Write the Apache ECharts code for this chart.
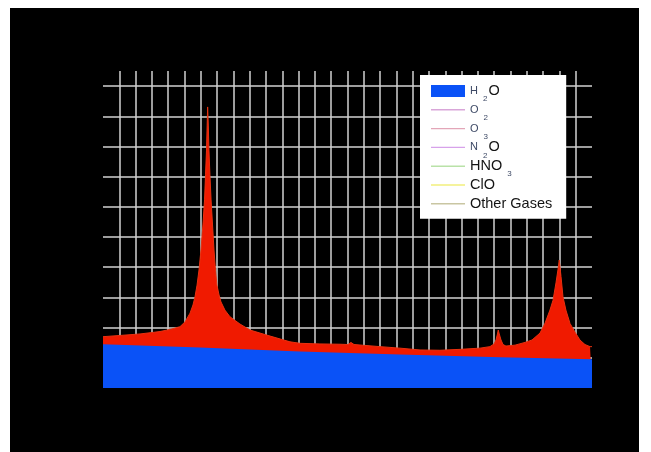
<!DOCTYPE html>
<html>
<head>
<meta charset="utf-8">
<script src="https://cdn.jsdelivr.net/npm/echarts@6/dist/echarts.min.js"></script>
<style>
  html, body { margin: 0; padding: 0; background: #ffffff; }
  #chart { position: absolute; left: 10px; top: 8px; width: 629px; height: 444px; background: #000000; }
</style>
</head>
<body>
<div id="chart"></div>
<script>
// Spectrum positions (grid units along the band) and levels (grid units)
const totalX = [0, 1.04, 2.27, 3.50, 4.11, 4.72, 5.03, 5.34, 5.52, 5.64, 5.77, 5.89, 6.01, 6.13, 6.23, 6.29, 6.35, 6.39, 6.42,
  6.46, 6.50, 6.56, 6.63, 6.72, 6.81, 6.90, 6.99, 7.12, 7.24, 7.48, 7.79, 8.40, 9.02, 9.63, 10.25, 11.47, 12.09, 13.31, 14.54,
  15.03, 15.21, 15.40, 16.99, 18.22, 19.45, 20.67, 21.90, 23.13, 23.74, 23.99, 24.11, 24.20, 24.25, 24.31, 24.42, 24.54, 24.72,
  25.28, 25.89, 26.32, 26.81, 27.12, 27.42, 27.61, 27.79, 27.91, 27.99, 28.10, 28.22, 28.40, 28.65, 28.96, 29.26, 29.57, 29.88, 30];
const totalY = [1.70, 1.74, 1.79, 1.87, 1.94, 2.03, 2.19, 2.48, 2.75, 3.01, 3.41, 3.91, 4.57, 5.40, 6.23, 7.06, 7.88, 8.71, 9.31,
  8.71, 7.88, 7.06, 6.23, 5.40, 4.57, 3.91, 3.41, 3.08, 2.85, 2.58, 2.36, 2.12, 1.92, 1.82, 1.72, 1.53, 1.48, 1.46, 1.45,
  1.44, 1.51, 1.44, 1.37, 1.32, 1.26, 1.25, 1.28, 1.32, 1.37, 1.46, 1.59, 1.79, 1.92, 1.79, 1.59, 1.44, 1.39,
  1.42, 1.51, 1.59, 1.82, 2.15, 2.58, 2.91, 3.48, 3.91, 4.24, 3.69, 3.02, 2.58, 2.14, 1.85, 1.59, 1.44, 1.37, 1.37];

const h2oX = [0, 5.95, 12.09, 18.22, 24.36, 30];
const h2oY = [1.45, 1.34, 1.21, 1.11, 1.02, 0.95];

const legendNames = ['H2O', 'O2', 'O3', 'N2O', 'HNO3', 'ClO', 'Other Gases'];
const lineColors = {
  'O2': '#d9a6d9',
  'O3': '#e3a6b8',
  'N2O': '#d7a2ea',
  'HNO3': '#b9e2a8',
  'ClO': '#f2f07e',
  'Other Gases': '#c9c6a2'
};
// rich-text labels with subscripts
const legendLabels = {
  'H2O': '{a|H}{s|2}{b|O}',
  'O2': '{a|O}{s|2}',
  'O3': '{a|O}{s|3}',
  'N2O': '{a|N}{s|2}{b|O}',
  'HNO3': '{b|HNO}{s|3}',
  'ClO': '{b|ClO}',
  'Other Gases': '{b|Other Gases}'
};

// thin horizontal stroke icon; the zero-area corner segments keep the full 34x12 box
const thinLineIcon = 'path://M0,0L0.01,0L0,0ZM0,5.3L34,5.3L34,6.7L0,6.7ZM34,12L33.99,12L34,12Z';

const pairs = (xs, ys) => xs.map((x, i) => [x, ys[i]]);

function gridColors(count) {
  const c = [];
  for (let i = 0; i <= count; i++) c.push(i === 0 || i === count ? 'rgba(0,0,0,0)' : '#d2d2d2');
  return c;
}

const chart = echarts.init(document.getElementById('chart'), null, { renderer: 'canvas' });

const series = [
  {
    name: 'Total',
    type: 'line',
    data: pairs(totalX, totalY),
    symbol: 'none',
    lineStyle: { width: 1, color: '#e8310f' },
    areaStyle: { color: '#f01a00', opacity: 1 },
    itemStyle: { color: '#f01a00' },
    z: 3
  },
  {
    name: 'H2O',
    type: 'line',
    data: pairs(h2oX, h2oY),
    symbol: 'none',
    lineStyle: { width: 0, color: '#0a52f7' },
    areaStyle: { color: '#0a52f7', opacity: 1 },
    itemStyle: { color: '#0a52f7' },
    z: 4
  }
];
legendNames.slice(1).forEach(n => {
  series.push({
    name: n,
    type: 'line',
    data: [],
    symbol: 'none',
    lineStyle: { width: 1.5, color: lineColors[n] },
    itemStyle: { color: lineColors[n] }
  });
});

chart.setOption({
  backgroundColor: '#000000',
  animation: false,
  grid: { left: 93, right: 47, top: 63, bottom: 64, containLabel: false },
  xAxis: {
    type: 'value', min: 0, max: 30, interval: 1,
    axisLine: { show: false }, axisTick: { show: false }, axisLabel: { show: false },
    splitLine: { show: true, lineStyle: { color: gridColors(30), width: 1.5 } }
  },
  yAxis: {
    type: 'value', min: 0, max: 10.5, interval: 1,
    axisLine: { show: false }, axisTick: { show: false }, axisLabel: { show: false },
    splitLine: { show: true, lineStyle: { color: gridColors(11), width: 1.5 } }
  },
  legend: {
    orient: 'vertical',
    left: 410, top: 67,
    padding: [4, 14, 3, 11],
    itemGap: -5.2,
    itemWidth: 34, itemHeight: 12,
    backgroundColor: '#ffffff',
    borderWidth: 0,
    data: legendNames.map(n => n === 'H2O' ? { name: n, icon: 'rect' } : { name: n, icon: thinLineIcon }),
    formatter: n => legendLabels[n],
    textStyle: {
      fontFamily: 'Liberation Sans, Arial, sans-serif',
      color: '#141414',
      lineHeight: 24,
      rich: {
        a: { fontSize: 11, color: '#3e4a66', lineHeight: 24, fontFamily: 'Liberation Sans' },
        s: { fontSize: 8, color: '#3e4a66', lineHeight: 8, verticalAlign: 'bottom', padding: [0, 1, 0, 5], fontFamily: 'Liberation Sans' },
        b: { fontSize: 14.5, color: '#141414', lineHeight: 24, fontFamily: 'Liberation Sans' }
      }
    }
  },
  series: series
});
</script>
</body>
</html>
